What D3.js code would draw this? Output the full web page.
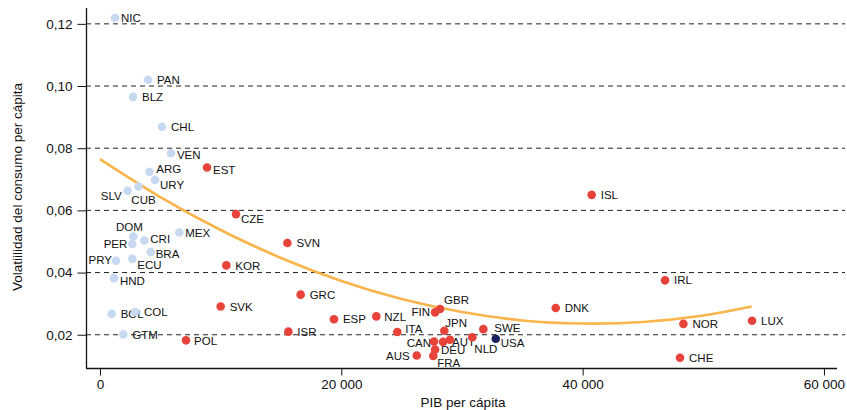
<!DOCTYPE html>
<html>
<head>
<meta charset="utf-8">
<script src="https://cdn.jsdelivr.net/npm/d3@7"></script>
<style>
  body { margin: 0; background: #fff; }
  svg text { font-family: Arial, "Liberation Sans", sans-serif; fill: #111; }
</style>
</head>
<body>
<div id="chart"></div>
<script>
// Country codes, GDP per capita and consumption volatility
const countries = ["NIC","PAN","BLZ","CHL","VEN","ARG","URY","SLV","CUB","EST",
  "CZE","DOM","CRI","PER","MEX","BRA","PRY","ECU","KOR","HND",
  "BOL","COL","GTM","POL","SVK","ISR","GRC","SVN","ESP","NZL",
  "ITA","AUS","FIN","GBR","JPN","CAN","AUT","BEL","DEU","FRA",
  "NLD","SWE","USA","ISL","IRL","DNK","NOR","LUX","CHE"];
const gdp = [1240, 3980, 2740, 5140, 5880, 4090, 4560, 2290, 3180, 8870,
  11270, 2760, 3670, 2680, 6570, 4200, 1330, 2680, 10470, 1160,
  970, 2900, 1930, 7130, 10000, 15610, 16630, 15530, 19390, 22900,
  24640, 26250, 27770, 28180, 28540, 27680, 28430, 29000, 27770, 27620,
  30860, 31770, 32800, 40750, 46830, 37770, 48350, 54040, 48070];
const volatility = [0.1219, 0.1020, 0.0965, 0.0869, 0.0784, 0.0724, 0.0698, 0.0663, 0.0677, 0.0738,
  0.0588, 0.0516, 0.0503, 0.0492, 0.0529, 0.0466, 0.0438, 0.0444, 0.0423, 0.0382,
  0.0267, 0.0273, 0.0201, 0.0182, 0.0291, 0.0210, 0.0329, 0.0495, 0.0250, 0.0259,
  0.0209, 0.0133, 0.0272, 0.0283, 0.0213, 0.0178, 0.0177, 0.0184, 0.0152, 0.0132,
  0.0192, 0.0218, 0.0187, 0.0650, 0.0375, 0.0286, 0.0235, 0.0245, 0.0126];
const groups = ["latam","latam","latam","latam","latam","latam","latam","latam","latam","oecd",
  "oecd","latam","latam","latam","latam","latam","latam","latam","oecd","latam",
  "latam","latam","latam","oecd","oecd","oecd","oecd","oecd","oecd","oecd",
  "oecd","oecd","oecd","oecd","oecd","oecd","oecd","oecd","oecd","oecd",
  "oecd","oecd","usa","oecd","oecd","oecd","oecd","oecd","oecd"];
const hiddenLabels = ["BEL"];

// Trend curve
const trendGdp = [0, 5000, 10000, 15000, 20000, 25000, 30000, 35000, 40000, 45000, 50000, 54000];
const trendVol = [0.0765, 0.0643, 0.0537, 0.0447, 0.0373, 0.0315, 0.0273, 0.0246, 0.0236, 0.0241, 0.0262, 0.0291];

const xTicks = [0, 20000, 40000, 60000];
const yTicks = [0.02, 0.04, 0.06, 0.08, 0.10, 0.12];

const colors = { latam: "#c6d9f0", oecd: "#e8433a", usa: "#1b2160" };

// label offsets [dx, dy, anchor]
const labelPos = {
  NIC: [6, 0], VEN: [6, 2], ARG: [7, -3], URY: [5, 5], EST: [6, 2],
  SLV: [-6, 5, "end"], CUB: [-7, 13], CZE: [5, 5], DOM: [-4, -10, "middle"],
  CRI: [6, -2], PER: [-5, 0, "end"], MEX: [6, 0], BRA: [5, 2],
  PRY: [-4, -1, "end"], ECU: [5, 6], HND: [6, 3],
  AUS: [-7, 0, "end"], FIN: [-5, 0, "end"], GBR: [4, -9], JPN: [1, -8],
  CAN: [-3, 1, "end"], DEU: [6, 0], FRA: [4, 7], NLD: [2, 12], SWE: [11, -1],
  USA: [5, 4], ITA: [8, -3], NZL: [8, 0], POL: [8, 1]
};

const width = 847, height = 410;
const x = d3.scaleLinear().domain([-1160, 61080]).range([86, 837]);
const y = d3.scaleLinear().domain([0.0093, 0.1251]).range([368, 8]);

const svg = d3.select("#chart").append("svg")
  .attr("width", width)
  .attr("height", height);

// dashed grid lines
svg.append("g")
  .selectAll("line")
  .data(yTicks)
  .enter().append("line")
  .attr("x1", 86).attr("x2", 845)
  .attr("y1", d => y(d)).attr("y2", d => y(d))
  .attr("stroke", "#222")
  .attr("stroke-width", 1)
  .attr("stroke-dasharray", "5,4");

// axes
const yAxis = svg.append("g")
  .attr("transform", "translate(86.5,0)")
  .call(d3.axisLeft(y).tickValues(yTicks).tickSize(9).tickPadding(5)
    .tickFormat(d => d3.format(".2f")(d).replace(".", ",")));
const xAxis = svg.append("g")
  .attr("transform", "translate(0,368.5)")
  .call(d3.axisBottom(x).tickValues(xTicks).tickSize(7).tickPadding(4)
    .tickFormat(d => d3.format(",")(d).replace(",", " ")));

[xAxis, yAxis].forEach(ax => {
  ax.select(".domain").attr("stroke", "#111").attr("stroke-width", 1.3);
  ax.selectAll(".tick line").attr("stroke", "#111");
  ax.selectAll(".tick text")
    .attr("font-size", "13.5px")
    .attr("font-family", "Arial, 'Liberation Sans', sans-serif")
    .attr("fill", "#111");
});
yAxis.select(".domain").attr("d", `M0,${y.range()[1]}V${y.range()[0]}`);
xAxis.select(".domain").attr("d", `M${x.range()[0]},0H${x.range()[1]}`);

// axis titles
svg.append("text")
  .attr("x", 463).attr("y", 407)
  .attr("text-anchor", "middle")
  .attr("font-size", "13.5px")
  .text("PIB per cápita");

svg.append("text")
  .attr("transform", "translate(22,187) rotate(-90)")
  .attr("text-anchor", "middle")
  .attr("font-size", "13.5px")
  .text("Volatiilidad del consumo per cápita");

// trend line
const trend = trendGdp.map((g, i) => [g, trendVol[i]]);
svg.append("path")
  .datum(trend)
  .attr("fill", "none")
  .attr("stroke", "#f9b44c")
  .attr("stroke-width", 2.6)
  .attr("d", d3.line().x(d => x(d[0])).y(d => y(d[1])).curve(d3.curveCatmullRom));

const points = countries.map((c, i) => ({ code: c, gdp: gdp[i], vol: volatility[i], group: groups[i] }));

// labels first, dots drawn on top
svg.append("g")
  .selectAll("text")
  .data(points.filter(d => !hiddenLabels.includes(d.code)))
  .enter().append("text")
  .attr("x", d => x(d.gdp) + (labelPos[d.code] || [9, 0])[0])
  .attr("y", d => y(d.vol) + (labelPos[d.code] || [9, 0])[1])
  .attr("dy", "0.36em")
  .attr("text-anchor", d => (labelPos[d.code] || [])[2] || "start")
  .attr("font-size", "11.5px")
  .text(d => d.code);

svg.append("g")
  .selectAll("circle")
  .data(points)
  .enter().append("circle")
  .attr("cx", d => x(d.gdp))
  .attr("cy", d => y(d.vol))
  .attr("r", 4.3)
  .attr("fill", d => colors[d.group]);
</script>
</body>
</html>
